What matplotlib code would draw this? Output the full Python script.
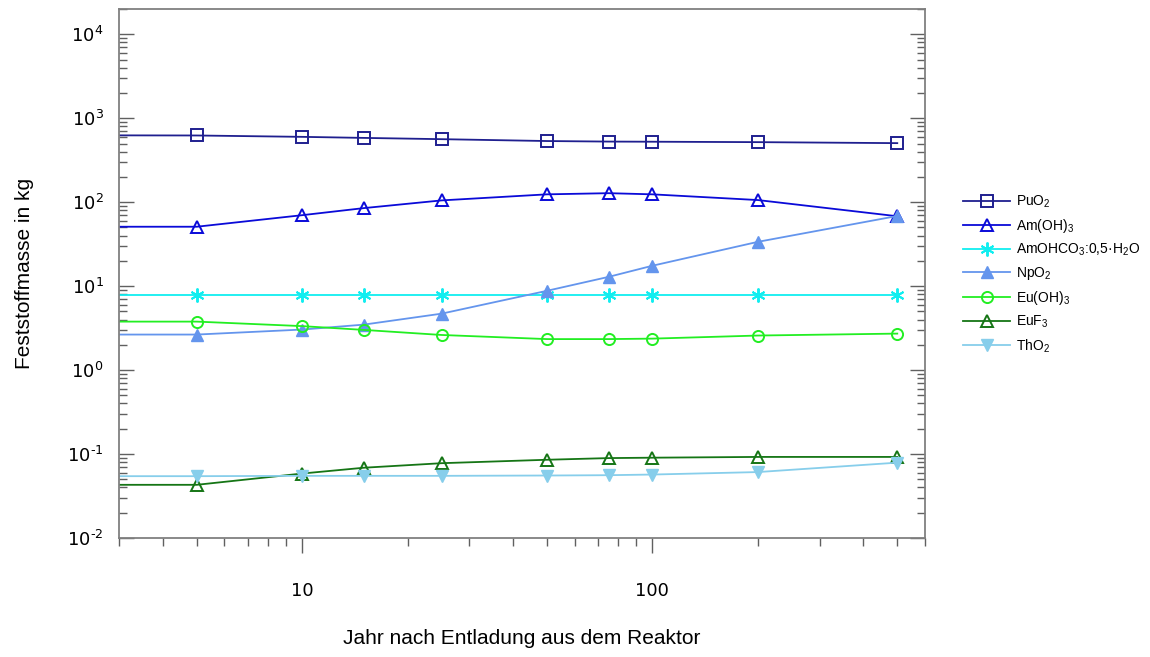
import numpy as np
import matplotlib.pyplot as plt
from matplotlib import ticker

plt.rcParams['mathtext.fontset'] = 'custom'
plt.rcParams['mathtext.rm'] = 'Liberation Sans'
plt.rcParams['mathtext.it'] = 'Liberation Sans:italic'
plt.rcParams['mathtext.bf'] = 'Liberation Sans:bold'

# Jahre nach Entladung
jahr = [3, 5, 10, 15, 25, 50, 75, 100, 200, 500]

puo2 = [625, 623, 600, 583, 563, 535, 527, 525, 519, 505]
amoh3 = [51, 51, 70, 85, 105, 124, 128, 124, 106, 68]
amohco3 = [7.9, 7.9, 7.9, 7.9, 7.9, 7.9, 7.9, 7.9, 7.9, 7.9]
npo2 = [2.65, 2.65, 3.04, 3.48, 4.7, 8.8, 12.9, 17.5, 33.7, 68.5]
euoh3 = [3.78, 3.78, 3.34, 3.01, 2.62, 2.34, 2.34, 2.37, 2.58, 2.72]
euf3 = [0.043, 0.043, 0.0586, 0.0687, 0.0778, 0.0855, 0.0895, 0.0905, 0.0924, 0.0924]
tho2 = [0.0545, 0.0545, 0.055, 0.055, 0.055, 0.0555, 0.056, 0.057, 0.061, 0.079]

labels = ['PuO$_\\mathregular{2}$', 'Am(OH)$_\\mathregular{3}$',
          'AmOHCO$_\\mathregular{3}$:0,5\u00b7H$_\\mathregular{2}$O',
          'NpO$_\\mathregular{2}$', 'Eu(OH)$_\\mathregular{3}$',
          'EuF$_\\mathregular{3}$', 'ThO$_\\mathregular{2}$']


def ylab(v, pos):
    # hyphen instead of the long minus, as in the original
    e = int(round(np.log10(v)))
    s = ('%d' % e).replace('-', '\u2010')
    return '$\\mathdefault{10^{%s}}$' % s


fig = plt.figure(figsize=(11.5, 6.57), dpi=100)
ax = fig.add_axes([119/1150, 1-538/657, (925-119)/1150, (538-9)/657])

lw = 1.3
me = slice(1, None)
ax.plot(jahr, puo2, color='#1f1f8f', lw=lw, marker='s', ms=8, mfc='none', mew=1.4, markevery=me)
ax.plot(jahr, amoh3, color='#0a0ad8', lw=lw, marker='^', ms=8, mfc='none', mew=1.4, markevery=me)
ax.plot(jahr, amohco3, color='#10eef0', lw=lw, marker=(6, 2, 0), ms=10, mew=1.4, markevery=me)
ax.plot(jahr, npo2, color='#6495ed', lw=lw, marker='^', ms=9, markevery=me)
ax.plot(jahr, euoh3, color='#22ee22', lw=lw, marker='o', ms=8, mfc='none', mew=1.4, markevery=me)
ax.plot(jahr, euf3, color='#157515', lw=lw, marker='^', ms=8, mfc='none', mew=1.4, markevery=me)
ax.plot(jahr, tho2, color='#87ceeb', lw=lw, marker='v', ms=9, markevery=me)

ax.set_xscale('log')
ax.set_yscale('log')
ax.set_xlim(3, 600)
ax.set_ylim(1e-2, 2e4)

ax.xaxis.set_major_formatter(ticker.FuncFormatter(lambda v, p: '%g' % v))
ax.xaxis.set_minor_formatter(ticker.NullFormatter())
ax.yaxis.set_major_locator(ticker.LogLocator(base=10, numticks=20))
ax.yaxis.set_minor_locator(ticker.LogLocator(base=10, subs=np.arange(2, 10), numticks=20))
ax.yaxis.set_major_formatter(ticker.FuncFormatter(ylab))
ax.yaxis.set_minor_formatter(ticker.NullFormatter())

for s in ax.spines.values():
    s.set_color('#808080')
    s.set_linewidth(1.3)

ax.tick_params(axis='x', which='both', direction='out', colors='#606060', labelcolor='black', top=False)
ax.tick_params(axis='x', which='major', length=11, width=1, pad=21, labelsize=13)
ax.tick_params(axis='x', which='minor', length=6, width=1)
ax.tick_params(axis='y', which='both', direction='in', left=True, right=True, colors='#606060', labelcolor='black')
ax.tick_params(axis='y', which='major', length=11, width=1, pad=11, labelsize=13)
ax.tick_params(axis='y', which='minor', length=6, width=1)

ax.set_xlabel('Jahr nach Entladung aus dem Reaktor', fontsize=15, family='Liberation Sans')
ax.set_ylabel('Feststoffmasse in kg', fontsize=15, family='Liberation Sans')
ax.xaxis.set_label_coords(0.5, -0.172)
ax.yaxis.set_label_coords(-0.105, 0.5)

ax.legend(labels, loc='center left', bbox_to_anchor=(963/1150, 1-274/657),
          bbox_transform=fig.transFigure, frameon=False, borderpad=0, borderaxespad=0,
          handlelength=3.4, handletextpad=0.4, labelspacing=0.5,
          prop={'family': 'Liberation Sans', 'size': 10})

plt.savefig('out.png', dpi=100)
